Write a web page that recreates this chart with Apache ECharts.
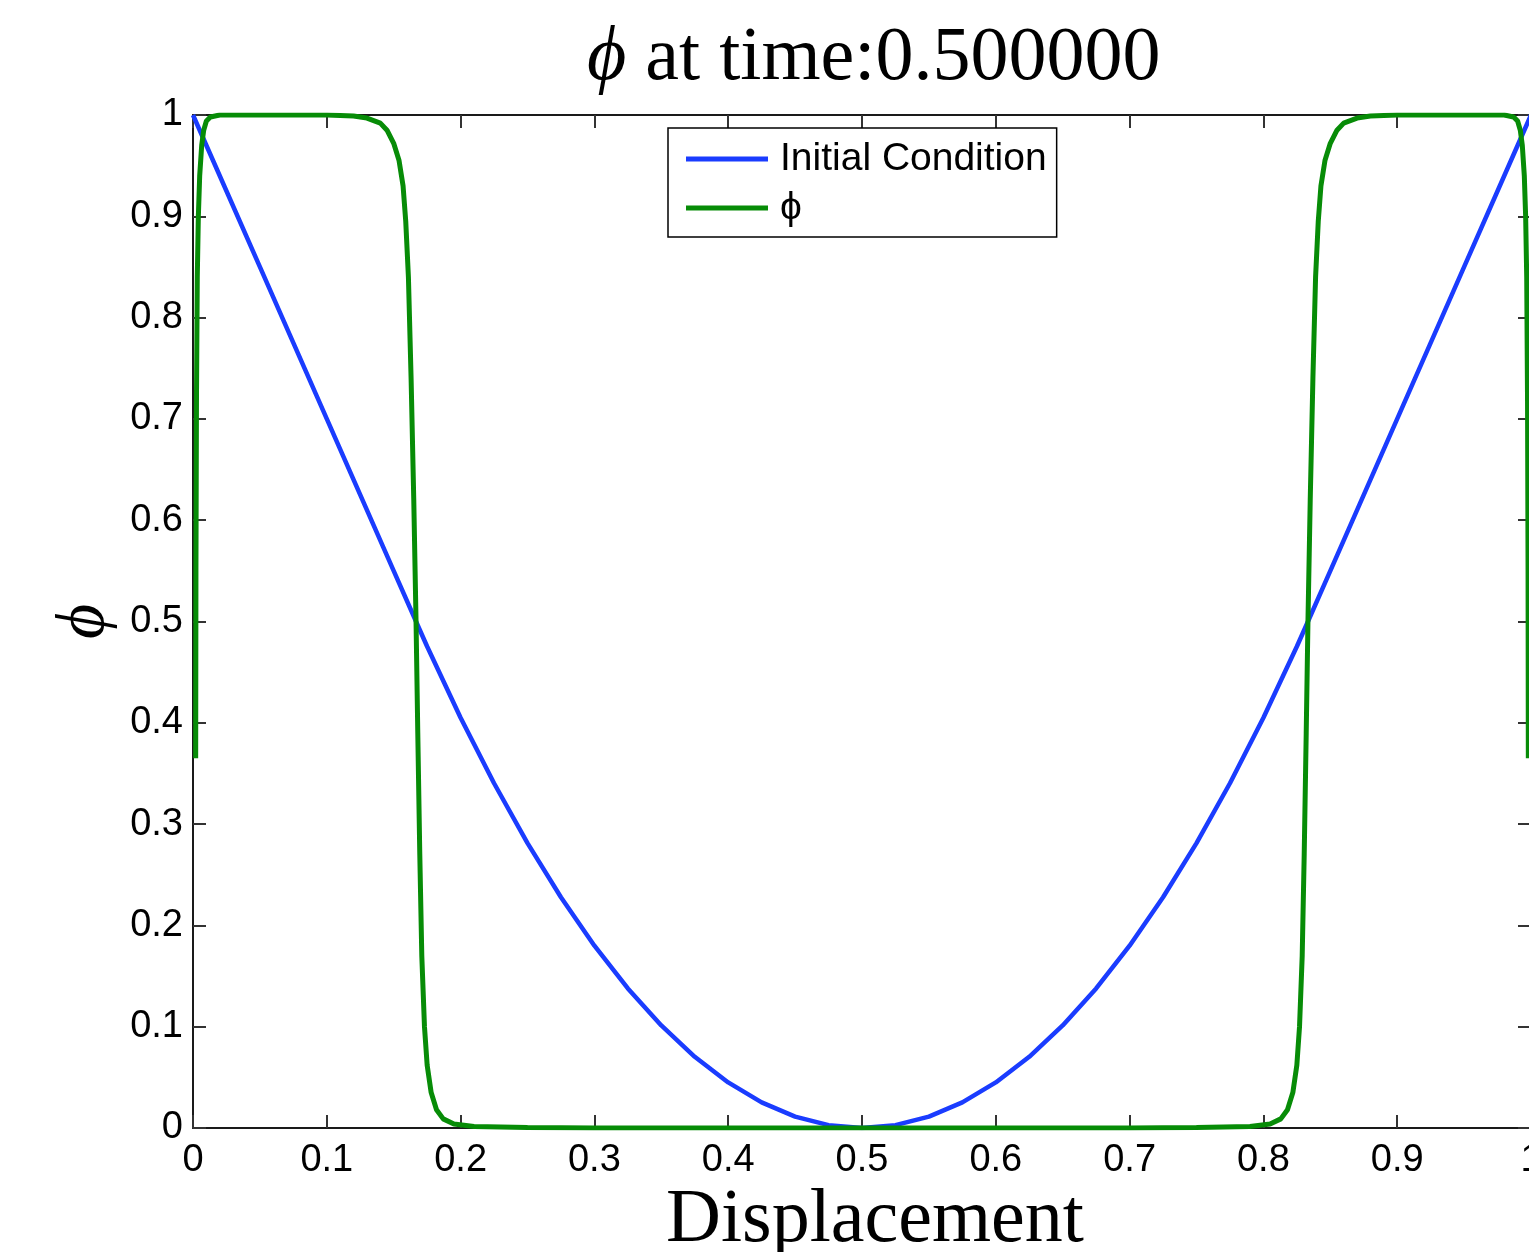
<!DOCTYPE html>
<html><head><meta charset="utf-8">
<script src="https://cdn.jsdelivr.net/npm/echarts@6/dist/echarts.min.js"></script>
<style>html,body{margin:0;padding:0;background:#fff}#c{width:1529px;height:1252px}</style>
</head><body><div id="c"></div>
<script>
// Initial condition
const icX = [0,0.025,0.05,0.075,0.1,0.125,0.15,0.1667,0.175,0.2,0.225,0.25,0.275,0.3,0.325,0.35,0.375,0.4,0.425,0.45,0.475,0.5,
  0.525,0.55,0.575,0.6,0.625,0.65,0.675,0.7,0.725,0.75,0.775,0.8,0.825,0.8333,0.85,0.875,0.9,0.925,0.95,0.975,1];
const icY = [1,0.925,0.85,0.775,0.7,0.625,0.55,0.5,0.4753,0.405,0.3403,0.28125,0.2278,0.18,0.1378,0.10125,0.0703,0.045,0.0253,0.01125,0.0028,0,
  0.0028,0.01125,0.0253,0.045,0.0703,0.10125,0.1378,0.18,0.2278,0.28125,0.3403,0.405,0.4753,0.5,0.55,0.625,0.7,0.775,0.85,0.925,1];
// phi at time 0.5
const phiX = [0.002,0.0022,0.0026,0.0032,0.004,0.005,0.0065,0.008,0.010,0.013,0.02,0.1,0.12,0.13,0.14,0.145,0.15,0.154,0.157,0.159,0.161,0.163,0.165,0.1667,
  0.168,0.1695,0.171,0.173,0.175,0.178,0.182,0.187,0.195,0.21,0.25,0.3,0.5,
  0.7,0.75,0.79,0.805,0.813,0.818,0.822,0.825,0.827,0.829,0.8305,0.832,0.8333,0.835,0.837,0.839,0.841,0.843,0.846,0.85,0.855,0.86,0.87,0.88,0.9,
  0.98,0.987,0.990,0.992,0.9935,0.995,0.996,0.9968,0.9974,0.9978,0.998];
const phiY = [0.365,0.55,0.72,0.84,0.9,0.94,0.97,0.985,0.994,0.998,1,1,0.999,0.997,0.992,0.985,0.972,0.955,0.93,0.895,0.84,0.74,0.62,0.5,
  0.39,0.27,0.17,0.1,0.062,0.035,0.018,0.009,0.004,0.0015,0.0005,0,0,
  0,0.0005,0.0015,0.004,0.009,0.018,0.035,0.062,0.1,0.17,0.27,0.39,0.5,0.62,0.74,0.84,0.895,0.93,0.955,0.972,0.985,0.992,0.997,0.999,1,
  1,0.998,0.994,0.985,0.97,0.94,0.9,0.84,0.72,0.55,0.365];
const seriesNames = ['Initial Condition', 'ϕ'];
const titleText = '{i|ϕ} at time:0.500000';
const xName = 'Displacement';
const yName = 'ϕ';

const zip = (a, b) => a.map((v, i) => [v, b[i]]);
const sans = 'Liberation Sans, DejaVu Sans';
const serif = 'Liberation Serif';
const axCol = '#1a1a1a';

const baseAxis = (pos, showLabel) => ({
  type: 'value', min: 0, max: 1, interval: 0.1, position: pos,
  splitLine: {show: false},
  axisLine: {show: true, onZero: false, lineStyle: {color: axCol, width: 2}},
  axisTick: {show: true, inside: true, length: 13, lineStyle: {color: '#333', width: 2}},
  axisLabel: {show: showLabel, color: '#000', fontFamily: sans, fontSize: 38}
});

const chart = echarts.init(document.getElementById('c'));
chart.setOption({
  animation: false,
  backgroundColor: '#fff',
  title: {
    text: titleText, left: 582, top: 16,
    textStyle: {fontFamily: serif, fontSize: 76, fontWeight: 'normal', color: '#000',
      rich: {i: {fontFamily: serif, fontStyle: 'italic', fontSize: 76, color: '#000'}}}
  },
  grid: {left: 193, right: -2, top: 115, bottom: 124, containLabel: false, outerBoundsMode: 'none'},
  legend: {
    left: 668, top: 128, orient: 'vertical',
    padding: [11, 10, 9, 18], itemGap: 9,
    borderColor: '#000', borderWidth: 1.5, backgroundColor: '#fff',
    icon: 'rect', itemWidth: 82, itemHeight: 5,
    textStyle: {fontFamily: sans, fontSize: 39, color: '#000', lineHeight: 40, padding: [0, 0, 0, 7]},
    data: seriesNames
  },
  xAxis: [
    Object.assign(baseAxis('bottom', true), {
      name: xName, nameLocation: 'middle', nameGap: 55, nameMoveOverlap: false,
      nameTextStyle: {fontFamily: serif, fontSize: 76, lineHeight: 76, color: '#000', padding: [0, 0, 0, 26]},
      axisLabel: {show: true, color: '#000', fontFamily: sans, fontSize: 38, margin: 14}
    }),
    baseAxis('top', false)
  ],
  yAxis: [
    Object.assign(baseAxis('left', true), {
      name: yName, nameLocation: 'middle', nameGap: 66, nameRotate: 90,
      nameTextStyle: {fontFamily: serif, fontStyle: 'italic', fontSize: 68, color: '#000'},
      axisLabel: {show: true, color: '#000', fontFamily: sans, fontSize: 38, margin: 10}
    }),
    baseAxis('right', false)
  ],
  series: [
    {name: seriesNames[0], type: 'line', data: zip(icX, icY), showSymbol: false, symbol: 'none',
     color: '#1a3cff', lineStyle: {color: '#1a3cff', width: 4.5}, z: 2},
    {name: seriesNames[1], type: 'line', data: zip(phiX, phiY), showSymbol: false, symbol: 'none',
     color: '#078c07', lineStyle: {color: '#078c07', width: 5}, z: 3}
  ]
});
</script></body></html>
